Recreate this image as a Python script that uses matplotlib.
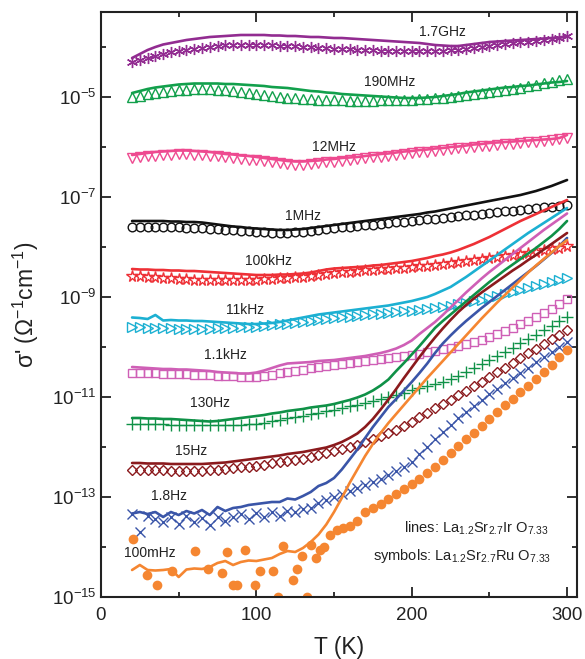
import numpy as np
import matplotlib
matplotlib.use('Agg')
import matplotlib.pyplot as plt
from matplotlib.ticker import FixedLocator, NullFormatter

plt.rcParams['font.family'] = ['Liberation Sans', 'DejaVu Sans']
plt.rcParams['mathtext.fontset'] = 'custom'
plt.rcParams['mathtext.rm'] = 'Liberation Sans'
plt.rcParams['mathtext.it'] = 'Liberation Sans:italic'
plt.rcParams['mathtext.default'] = 'regular'

# temperature grid (K)
T = [20, 25, 30, 35, 40, 45, 50, 55, 60, 65,
     70, 75, 80, 85, 90, 95, 100, 105, 110, 115,
     120, 125, 130, 135, 140, 145, 150, 155, 160, 165,
     170, 175, 180, 185, 190, 195, 200, 205, 210, 215,
     220, 225, 230, 235, 240, 245, 250, 255, 260, 265,
     270, 275, 280, 285, 290, 295, 300]

# log10 sigma' values; ir_ = lines (La1.2Sr2.7IrO7.33), ru_ = symbols (La1.2Sr2.7RuO7.33)
ir_1p7GHz = [-4.22, -4.14, -4.06, -4.00, -3.95, -3.92, -3.89, -3.86, -3.84, -3.82,
             -3.80, -3.79, -3.78, -3.77, -3.76, -3.76, -3.76, -3.76, -3.77, -3.77,
             -3.78, -3.78, -3.79, -3.80, -3.80, -3.81, -3.82, -3.82, -3.83, -3.84,
             -3.85, -3.86, -3.87, -3.88, -3.89, -3.90, -3.91, -3.92, -3.94, -3.96,
             -3.97, -3.98, -3.98, -3.96, -3.94, -3.92, -3.90, -3.89, -3.88, -3.87,
             -3.86, -3.85, -3.84, -3.83, -3.82, -3.81, -3.78]
ru_1p7GHz = [-4.30, -4.26, -4.22, -4.18, -4.14, -4.11, -4.08, -4.06, -4.04, -4.02,
             -4.00, -3.99, -3.97, -3.96, -3.96, -3.96, -3.96, -3.97, -3.97, -3.98,
             -3.99, -3.99, -4.00, -4.01, -4.02, -4.03, -4.04, -4.05, -4.05, -4.06,
             -4.07, -4.07, -4.08, -4.08, -4.09, -4.09, -4.09, -4.09, -4.09, -4.08,
             -4.08, -4.07, -4.06, -4.04, -4.02, -4.00, -3.99, -3.97, -3.95, -3.93,
             -3.91, -3.90, -3.88, -3.86, -3.84, -3.82, -3.79]

ir_190MHz = [-4.92, -4.88, -4.84, -4.81, -4.79, -4.77, -4.75, -4.74, -4.73, -4.73,
             -4.73, -4.73, -4.74, -4.74, -4.75, -4.76, -4.77, -4.78, -4.80, -4.81,
             -4.82, -4.84, -4.86, -4.88, -4.89, -4.91, -4.92, -4.94, -4.95, -4.96,
             -4.97, -4.98, -4.99, -5.00, -5.01, -5.02, -5.02, -5.02, -5.01, -5.00,
             -4.98, -4.96, -4.94, -4.91, -4.89, -4.87, -4.85, -4.83, -4.81, -4.80,
             -4.78, -4.77, -4.75, -4.73, -4.71, -4.70, -4.68]
ru_190MHz = [-5.01, -4.98, -4.95, -4.93, -4.91, -4.89, -4.87, -4.86, -4.85, -4.85,
             -4.85, -4.86, -4.87, -4.88, -4.90, -4.92, -4.94, -4.96, -4.98, -5.00,
             -5.02, -5.03, -5.04, -5.05, -5.06, -5.06, -5.07, -5.07, -5.08, -5.08,
             -5.08, -5.08, -5.07, -5.07, -5.07, -5.06, -5.06, -5.05, -5.04, -5.03,
             -5.02, -5.00, -4.98, -4.96, -4.95, -4.92, -4.90, -4.88, -4.86, -4.84,
             -4.82, -4.79, -4.76, -4.73, -4.70, -4.67, -4.65]

ir_12MHz = [-6.16, -6.14, -6.12, -6.10, -6.09, -6.08, -6.07, -6.07, -6.08, -6.09,
            -6.10, -6.12, -6.14, -6.15, -6.17, -6.18, -6.20, -6.22, -6.24, -6.26,
            -6.28, -6.29, -6.29, -6.28, -6.27, -6.25, -6.24, -6.22, -6.21, -6.20,
            -6.18, -6.16, -6.14, -6.13, -6.11, -6.09, -6.08, -6.06, -6.05, -6.03,
            -6.02, -6.00, -5.99, -5.97, -5.95, -5.94, -5.92, -5.91, -5.90, -5.89,
            -5.88, -5.87, -5.86, -5.85, -5.84, -5.82, -5.76]
ru_12MHz = [-6.23, -6.21, -6.19, -6.18, -6.17, -6.16, -6.15, -6.15, -6.16, -6.17,
            -6.18, -6.19, -6.21, -6.22, -6.24, -6.26, -6.27, -6.29, -6.31, -6.33,
            -6.35, -6.36, -6.36, -6.35, -6.33, -6.31, -6.30, -6.28, -6.27, -6.25,
            -6.23, -6.21, -6.20, -6.18, -6.16, -6.15, -6.13, -6.11, -6.10, -6.08,
            -6.06, -6.05, -6.03, -6.02, -6.00, -5.99, -5.98, -5.96, -5.95, -5.94,
            -5.92, -5.91, -5.90, -5.88, -5.87, -5.85, -5.82]

ir_1MHz = [-7.48, -7.48, -7.48, -7.48, -7.48, -7.49, -7.49, -7.50, -7.50, -7.51,
           -7.53, -7.55, -7.57, -7.59, -7.60, -7.62, -7.63, -7.64, -7.65, -7.66,
           -7.66, -7.65, -7.64, -7.62, -7.60, -7.58, -7.56, -7.54, -7.52, -7.50,
           -7.48, -7.46, -7.44, -7.42, -7.40, -7.38, -7.36, -7.34, -7.31, -7.29,
           -7.26, -7.23, -7.20, -7.17, -7.14, -7.11, -7.08, -7.05, -7.02, -6.99,
           -6.96, -6.92, -6.88, -6.83, -6.78, -6.72, -6.66]
ru_1MHz = [-7.60, -7.60, -7.60, -7.60, -7.60, -7.61, -7.61, -7.62, -7.62, -7.63,
           -7.64, -7.65, -7.66, -7.67, -7.68, -7.69, -7.70, -7.71, -7.72, -7.72,
           -7.72, -7.71, -7.70, -7.68, -7.66, -7.64, -7.62, -7.61, -7.60, -7.58,
           -7.57, -7.56, -7.54, -7.53, -7.51, -7.50, -7.48, -7.47, -7.45, -7.44,
           -7.42, -7.40, -7.39, -7.37, -7.36, -7.34, -7.32, -7.31, -7.29, -7.28,
           -7.26, -7.25, -7.23, -7.21, -7.20, -7.18, -7.16]

ir_100kHz = [-8.44, -8.45, -8.45, -8.46, -8.46, -8.47, -8.47, -8.48, -8.48, -8.49,
             -8.50, -8.51, -8.52, -8.53, -8.54, -8.55, -8.56, -8.56, -8.56, -8.55,
             -8.55, -8.54, -8.53, -8.51, -8.48, -8.45, -8.43, -8.42, -8.41, -8.40,
             -8.39, -8.37, -8.36, -8.34, -8.32, -8.30, -8.28, -8.25, -8.22, -8.18,
             -8.15, -8.11, -8.06, -8.00, -7.94, -7.87, -7.80, -7.72, -7.64, -7.56,
             -7.48, -7.41, -7.34, -7.27, -7.20, -7.13, -7.06]
ru_100kHz = [-8.58, -8.59, -8.60, -8.61, -8.62, -8.63, -8.64, -8.65, -8.66, -8.66,
             -8.67, -8.67, -8.67, -8.67, -8.67, -8.66, -8.66, -8.65, -8.64, -8.63,
             -8.62, -8.61, -8.60, -8.58, -8.56, -8.54, -8.52, -8.51, -8.50, -8.49,
             -8.47, -8.46, -8.45, -8.44, -8.43, -8.42, -8.41, -8.39, -8.38, -8.36,
             -8.34, -8.32, -8.30, -8.28, -8.27, -8.25, -8.23, -8.21, -8.19, -8.17,
             -8.15, -8.12, -8.10, -8.07, -8.05, -8.02, -7.99]

ir_11kHz = [-9.41, -9.42, -9.44, -9.36, -9.47, -9.46, -9.47, -9.47, -9.48, -9.48,
            -9.49, -9.50, -9.51, -9.52, -9.53, -9.54, -9.54, -9.53, -9.52, -9.50,
            -9.47, -9.44, -9.41, -9.38, -9.35, -9.33, -9.31, -9.29, -9.27, -9.25,
            -9.23, -9.21, -9.19, -9.17, -9.14, -9.11, -9.08, -9.04, -9.00, -8.94,
            -8.87, -8.80, -8.70, -8.60, -8.49, -8.38, -8.27, -8.16, -8.05, -7.94,
            -7.83, -7.72, -7.62, -7.52, -7.42, -7.32, -7.22]
ru_11kHz = [-9.60, -9.61, -9.62, -9.62, -9.63, -9.63, -9.64, -9.64, -9.64, -9.64,
            -9.64, -9.63, -9.63, -9.62, -9.61, -9.61, -9.60, -9.58, -9.57, -9.55,
            -9.54, -9.52, -9.50, -9.48, -9.46, -9.44, -9.42, -9.41, -9.40, -9.38,
            -9.37, -9.35, -9.34, -9.32, -9.31, -9.29, -9.28, -9.26, -9.24, -9.22,
            -9.20, -9.18, -9.15, -9.12, -9.09, -9.06, -9.03, -8.99, -8.95, -8.91,
            -8.87, -8.83, -8.79, -8.75, -8.71, -8.67, -8.63]

ir_1p1kHz = [-10.40, -10.41, -10.42, -10.43, -10.44, -10.44, -10.45, -10.45, -10.46, -10.47,
             -10.48, -10.50, -10.51, -10.52, -10.53, -10.53, -10.51, -10.47, -10.42, -10.37,
             -10.33, -10.32, -10.31, -10.30, -10.28, -10.27, -10.26, -10.24, -10.22, -10.20,
             -10.18, -10.15, -10.12, -10.08, -10.03, -9.96, -9.87, -9.74, -9.62, -9.50,
             -9.36, -9.21, -9.06, -8.91, -8.77, -8.63, -8.50, -8.38, -8.26, -8.14,
             -8.02, -7.90, -7.78, -7.66, -7.55, -7.44, -7.33]
ru_1p1kHz = [-10.52, -10.52, -10.53, -10.53, -10.54, -10.54, -10.55, -10.55, -10.56, -10.56,
             -10.57, -10.58, -10.58, -10.59, -10.60, -10.60, -10.60, -10.58, -10.56, -10.53,
             -10.50, -10.48, -10.46, -10.43, -10.41, -10.39, -10.37, -10.35, -10.33, -10.31,
             -10.29, -10.27, -10.25, -10.23, -10.21, -10.19, -10.16, -10.14, -10.11, -10.08,
             -10.05, -10.02, -9.99, -9.95, -9.91, -9.86, -9.81, -9.75, -9.69, -9.62,
             -9.55, -9.48, -9.40, -9.32, -9.24, -9.15, -9.05]

ir_130Hz = [-11.42, -11.42, -11.43, -11.43, -11.44, -11.44, -11.45, -11.46, -11.47, -11.48,
            -11.49, -11.48, -11.46, -11.44, -11.42, -11.40, -11.38, -11.36, -11.33, -11.31,
            -11.28, -11.26, -11.24, -11.21, -11.19, -11.17, -11.14, -11.10, -11.06, -11.01,
            -10.95, -10.87, -10.77, -10.65, -10.48, -10.32, -10.15, -9.98, -9.80, -9.62,
            -9.48, -9.35, -9.22, -9.09, -8.96, -8.83, -8.70, -8.58, -8.46, -8.35,
            -8.24, -8.13, -8.02, -7.90, -7.78, -7.64, -7.48]
ru_130Hz = [-11.54, -11.54, -11.55, -11.55, -11.55, -11.56, -11.56, -11.56, -11.56, -11.56,
            -11.57, -11.57, -11.57, -11.56, -11.56, -11.55, -11.54, -11.52, -11.49, -11.46,
            -11.43, -11.41, -11.38, -11.35, -11.32, -11.29, -11.26, -11.23, -11.19, -11.16,
            -11.12, -11.08, -11.04, -11.00, -10.96, -10.92, -10.87, -10.83, -10.78, -10.74,
            -10.70, -10.65, -10.58, -10.51, -10.43, -10.35, -10.27, -10.19, -10.10, -10.02,
            -9.93, -9.84, -9.76, -9.67, -9.58, -9.49, -9.40]

ir_15Hz = [-12.32, -12.32, -12.33, -12.33, -12.33, -12.34, -12.34, -12.34, -12.34, -12.34,
           -12.33, -12.32, -12.31, -12.29, -12.27, -12.25, -12.23, -12.21, -12.19, -12.17,
           -12.14, -12.12, -12.10, -12.07, -12.04, -12.01, -11.96, -11.90, -11.82, -11.73,
           -11.60, -11.44, -11.25, -11.05, -10.84, -10.62, -10.41, -10.20, -10.00, -9.81,
           -9.63, -9.46, -9.30, -9.16, -9.03, -8.91, -8.80, -8.69, -8.58, -8.47,
           -8.37, -8.26, -8.16, -8.05, -7.94, -7.83, -7.72]
ru_15Hz = [-12.46, -12.46, -12.47, -12.47, -12.47, -12.48, -12.48, -12.48, -12.48, -12.48,
           -12.47, -12.46, -12.45, -12.43, -12.41, -12.40, -12.38, -12.36, -12.33, -12.31,
           -12.29, -12.27, -12.24, -12.21, -12.17, -12.13, -12.09, -12.05, -12.00, -11.96,
           -11.90, -11.84, -11.78, -11.72, -11.66, -11.58, -11.50, -11.41, -11.32, -11.23,
           -11.14, -11.06, -10.97, -10.88, -10.79, -10.70, -10.60, -10.51, -10.42, -10.33,
           -10.23, -10.13, -10.04, -9.95, -9.85, -9.76, -9.66]

ir_1p8Hz = [-13.33, -13.30, -13.34, -13.30, -13.40, -13.30, -13.36, -13.28, -13.33, -13.26,
            -13.36, -13.20, -13.28, -13.22, -13.20, -13.16, -13.14, -13.12, -13.10, -13.10,
            -13.03, -13.05, -12.98, -12.90, -12.78, -12.72, -12.62, -12.45, -12.25, -12.05,
            -11.82, -11.60, -11.40, -11.20, -11.04, -10.87, -10.70, -10.52, -10.33, -10.12,
            -9.93, -9.77, -9.62, -9.48, -9.35, -9.22, -9.10, -8.98, -8.86, -8.74,
            -8.62, -8.50, -8.38, -8.25, -8.12, -7.98, -7.82]
ru_1p8Hz = [-13.35, -13.70, -13.38, -13.45, -13.50, -13.40, -13.55, -13.38, -13.50, -13.42,
            -13.56, -13.40, -13.48, -13.40, -13.35, -13.45, -13.32, -13.40, -13.30, -13.38,
            -13.28, -13.30, -13.25, -13.22, -13.12, -13.06, -13.00, -12.94, -12.88, -12.82,
            -12.76, -12.70, -12.64, -12.56, -12.48, -12.40, -12.30, -12.15, -12.00, -11.85,
            -11.70, -11.56, -11.43, -11.30, -11.18, -11.06, -10.94, -10.84, -10.73, -10.63,
            -10.52, -10.42, -10.31, -10.21, -10.10, -10.00, -9.90]

ir_100mHz = [-14.46, -14.36, -14.46, -14.47, -14.46, -14.44, -14.60, -14.45, -14.43, -14.44,
             -14.40, -14.32, -14.28, -14.36, -14.30, -14.27, -14.28, -14.25, -14.22, -14.14,
             -14.08, -14.10, -14.02, -13.90, -13.75, -13.55, -13.30, -13.02, -12.72, -12.45,
             -12.18, -11.94, -11.72, -11.52, -11.34, -11.16, -10.98, -10.80, -10.62, -10.45,
             -10.28, -10.11, -9.94, -9.77, -9.60, -9.43, -9.27, -9.11, -8.96, -8.81,
             -8.66, -8.51, -8.37, -8.24, -8.11, -7.98, -7.86]

# 100 mHz symbols: scattered at low T (many points fall below 1e-15), dense above ~150 K
T_ru_100mHz = [20.8, 29.4, 35.8, 45.5, 60.5, 69.0, 77.7, 81.0, 85.2, 87.3,
               93.0, 99.0, 102.4, 111.0, 114.0, 117.0, 123.4, 126.0, 129.2, 132.4,
               135.2, 138.3, 141.0, 143.6, 147.5, 151.8, 156.0, 160.0, 165.0,
               170, 175, 180, 185, 190, 195, 200, 205, 210, 215,
               220, 225, 230, 235, 240, 245, 250, 255, 260, 265,
               270, 275, 280, 285, 290, 295, 300]
ru_100mHz = [-13.84, -14.56, -14.76, -14.48, -14.09, -14.44, -14.53, -14.10, -14.76, -14.76,
             -14.07, -14.76, -14.49, -14.49, -15.00, -13.99, -14.66, -14.45, -14.19, -15.00,
             -13.96, -14.22, -14.06, -14.00, -13.76, -13.66, -13.62, -13.58, -13.48,
             -13.30, -13.22, -13.14, -13.05, -12.95, -12.85, -12.75, -12.64, -12.52, -12.40,
             -12.27, -12.12, -11.98, -11.85, -11.72, -11.58, -11.44, -11.30, -11.17, -11.04,
             -10.91, -10.78, -10.64, -10.50, -10.36, -10.21, -10.06]

freq_labels = ['1.7GHz', '190MHz', '12MHz', '1MHz', '100kHz', '11kHz',
               '1.1kHz', '130Hz', '15Hz', '1.8Hz', '100mHz']
label_T = [220, 186, 150, 130, 108, 93, 80, 70, 58, 44, 31.5]
label_logs = [-3.70, -4.70, -6.00, -7.38, -8.28, -9.26, -10.16, -11.12, -12.08, -12.98, -14.12]

colors = ['#922c91', '#12a04c', '#ee4a90', '#111111', '#ee3036', '#1cb0d2',
          '#cf5fb6', '#0f9147', '#8b1a1d', '#3a55a8', '#f58631']

ir_all = [ir_1p7GHz, ir_190MHz, ir_12MHz, ir_1MHz, ir_100kHz, ir_11kHz,
          ir_1p1kHz, ir_130Hz, ir_15Hz, ir_1p8Hz, ir_100mHz]
ru_all = [(T, ru_1p7GHz), (T, ru_190MHz), (T, ru_12MHz), (T, ru_1MHz), (T, ru_100kHz),
          (T, ru_11kHz), (T, ru_1p1kHz), (T, ru_130Hz), (T, ru_15Hz), (T, ru_1p8Hz),
          (T_ru_100mHz, ru_100mHz)]
# marker, size, filled
mstyle = [((6, 2, 0), 8.0, False), ('^', 7.0, False), ('v', 7.0, False), ('o', 6.2, False),
          ('*', 8.5, False), ('>', 7.0, False), ('s', 6.0, False), ('+', 8.0, False),
          ('D', 5.5, False), ('x', 7.0, False), ('o', 7.0, True)]

fig = plt.figure(figsize=(5.85, 6.59), dpi=100)
ax = fig.add_axes([101 / 585, 62 / 659, 476 / 585, 585 / 659])
ax.set_yscale('log')

for (tx, vals), c, (m, ms, filled) in zip(ru_all, colors, mstyle):
    ax.plot(tx, 10.0 ** np.array(vals), ls='none', marker=m, ms=ms,
            mfc=c if filled else 'none', mec=c, mew=1.0 if not filled else 0)

for vals, c in zip(ir_all, colors):
    ax.plot(T, 10.0 ** np.array(vals), color=c, lw=1.9, solid_capstyle='round')

for lab, tx, ly in zip(freq_labels, label_T, label_logs):
    ax.text(tx, 10.0 ** ly, lab, ha='center', va='center', fontsize=10, color='#222222')

ax.text(288, 10.0 ** -13.72, 'lines: La$_{1.2}$Sr$_{2.7}$Ir O$_{7.33}$',
        ha='right', va='baseline', fontsize=10.5, color='#222222')
ax.text(289.5, 10.0 ** -14.26, 'symbols: La$_{1.2}$Sr$_{2.7}$Ru O$_{7.33}$',
        ha='right', va='baseline', fontsize=10.5, color='#222222')

ax.set_xlim(0, 306.4)
ax.set_ylim(1e-15, 10 ** -3.3)

ax.xaxis.set_major_locator(FixedLocator([0, 100, 200, 300]))
ax.xaxis.set_minor_locator(FixedLocator([50, 150, 250]))
ax.yaxis.set_major_locator(FixedLocator([10.0 ** e for e in range(-15, -4, 2)]))
ax.yaxis.set_minor_locator(FixedLocator([10.0 ** e for e in range(-14, -3, 2)]))
ax.set_yticklabels(['$10^{%d}$' % e for e in range(-15, -4, 2)])
ax.yaxis.set_minor_formatter(NullFormatter())

ax.tick_params(which='both', direction='in', top=True, right=True, width=1.3,
               labelsize=13.5, colors='#222222')
ax.tick_params(which='major', length=7)
ax.tick_params(which='minor', length=3.6)
ax.tick_params(axis='x', pad=7)
ax.tick_params(axis='y', pad=3)
for s in ax.spines.values():
    s.set_linewidth(1.5)
    s.set_color('#222222')

ax.set_xlabel('T (K)', fontsize=16.5, labelpad=9, color='#222222')
ax.set_ylabel("σ' (Ω$^{-1}$cm$^{-1}$)", fontsize=16.5, labelpad=8, color='#222222')

fig.savefig('out.png', dpi=100)
